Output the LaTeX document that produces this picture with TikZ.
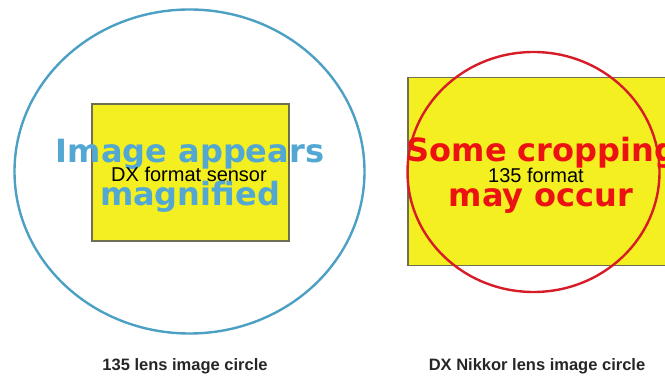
\documentclass[tikz,border=0pt]{standalone}
\usepackage{fontspec}
\setmainfont{Liberation Sans}
\newfontfamily\headfont{DejaVu Sans}
\usetikzlibrary{shapes.geometric}

\definecolor{circblue}{RGB}{75,160,196}
\definecolor{textblue}{RGB}{82,168,210}
\definecolor{circred}{RGB}{214,28,40}
\definecolor{textred}{RGB}{236,18,18}
\definecolor{sensoryellow}{RGB}{243,239,32}
\definecolor{sensoredge}{RGB}{112,110,80}

\tikzset{
  imagecircle/.style={ellipse, draw, line width=2.4pt, inner sep=0pt},
  sensorbox/.style={rectangle, draw=sensoredge, fill=sensoryellow, line width=1.3pt, inner sep=0pt},
  bigtext/.style={font=\headfont\bfseries\fontsize{32}{36}\selectfont, anchor=base, inner sep=0pt},
  formattext/.style={font=\fontsize{20}{24}\selectfont, anchor=base, inner sep=0pt, text=black},
  caption/.style={font=\bfseries\fontsize{16.5}{20}\selectfont, anchor=base, inner sep=0pt, text=black!85}
}

\begin{document}
\begin{tikzpicture}[x=1pt, y=-1pt]
  \useasboundingbox (0,0) rectangle (665,379);
  \clip (0,0) rectangle (665,379);

  % left: full-frame lens circle around a DX sensor
  \node[imagecircle, draw=circblue, minimum width=350pt, minimum height=324pt] (fxcircle) at (189.5,171.5) {};
  \node[sensorbox, minimum width=197pt, minimum height=137pt] (dxsensor) at (190.5,172.5) {};
  \node[bigtext, text=textblue] (magA) at (190,163) {Image appears};
  \node[formattext] (dxlabel) at (189,182) {DX format sensor};
  \node[bigtext, text=textblue] (magB) at (190,206) {magnified};
  \node[caption] (fxcap) at (185,371) {135 lens image circle};

  % right: DX lens circle over a 135 frame
  \node[sensorbox, minimum width=280pt, minimum height=188pt] (fxsensor) at (548,171.5) {};
  \node[imagecircle, draw=circred, minimum width=252pt, minimum height=240pt] (dxcircle) at (533.5,172) {};
  \node[bigtext, text=textred] (cropA) at (542,162) {Some cropping};
  \node[formattext] (fxlabel) at (536,183) {135 format};
  \node[bigtext, text=textred] (cropB) at (541,207) {may occur};
  \node[caption] (dxcap) at (537,371) {DX Nikkor lens image circle};
\end{tikzpicture}
\end{document}
